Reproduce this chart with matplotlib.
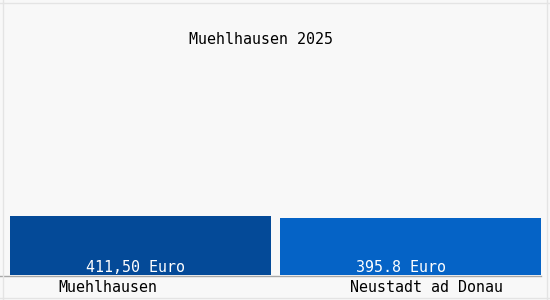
import matplotlib
matplotlib.use("Agg")
import matplotlib.pyplot as plt
from matplotlib.lines import Line2D

title = "Muehlhausen 2025"
places = ["Muehlhausen", "Neustadt ad Donau"]
values = [411.50, 395.8]
value_labels = ["411,50 Euro", "395.8 Euro"]
colors = ["#044a98", "#0563c6"]

W, H = 550, 300
fig = plt.figure(figsize=(W / 100, H / 100), dpi=100, facecolor="#f8f8f8")

# axes: x 10..541 px, baseline at y=275 px, top at y=0
ax = fig.add_axes([10 / W, 1 - 275 / H, 531 / W, 275 / H])
ax.set_facecolor("none")
w = 0.966
x = range(len(values))
ax.bar(x, values, width=w, color=colors)
ax.set_xlim(-w / 2, len(values) - 1 + w / 2)
ax.set_ylim(0, 411.5 * 275 / 59)
ax.axis("off")

mono = "DejaVu Sans Mono"
fs = 10.8
# value labels sit a fixed distance from each bar's left edge
off = 76 * (len(values) - 1 + w) / 531
for i, lab in enumerate(value_labels):
    ax.text(i - w / 2 + off, 1, lab, ha="left", va="bottom", color="white",
            family=mono, fontsize=fs)

fig.text(261 / W, 1 - 39 / H, title, ha="center", va="center",
         family=mono, fontsize=fs, color="black")
for px, lab in zip([108, 427], places):
    fig.text(px / W, 1 - 287 / H, lab, ha="center", va="center",
             family=mono, fontsize=fs, color="black")

# baseline and faint frame
fig.add_artist(Line2D([0, 541 / W], [1 - 275.5 / H] * 2, color="#a8a8a8", lw=1))
fig.add_artist(Line2D([2.5 / W, 2.5 / W], [0, 1], color="#e4e4e4", lw=1))
fig.add_artist(Line2D([546.5 / W, 546.5 / W], [0, 1], color="#e4e4e4", lw=1))
fig.add_artist(Line2D([0, 1], [1 - 2.5 / H] * 2, color="#e4e4e4", lw=1))
fig.add_artist(Line2D([0, 1], [1 - 297.5 / H] * 2, color="#e4e4e4", lw=1))

fig.savefig("out.png", dpi=100, facecolor=fig.get_facecolor())
